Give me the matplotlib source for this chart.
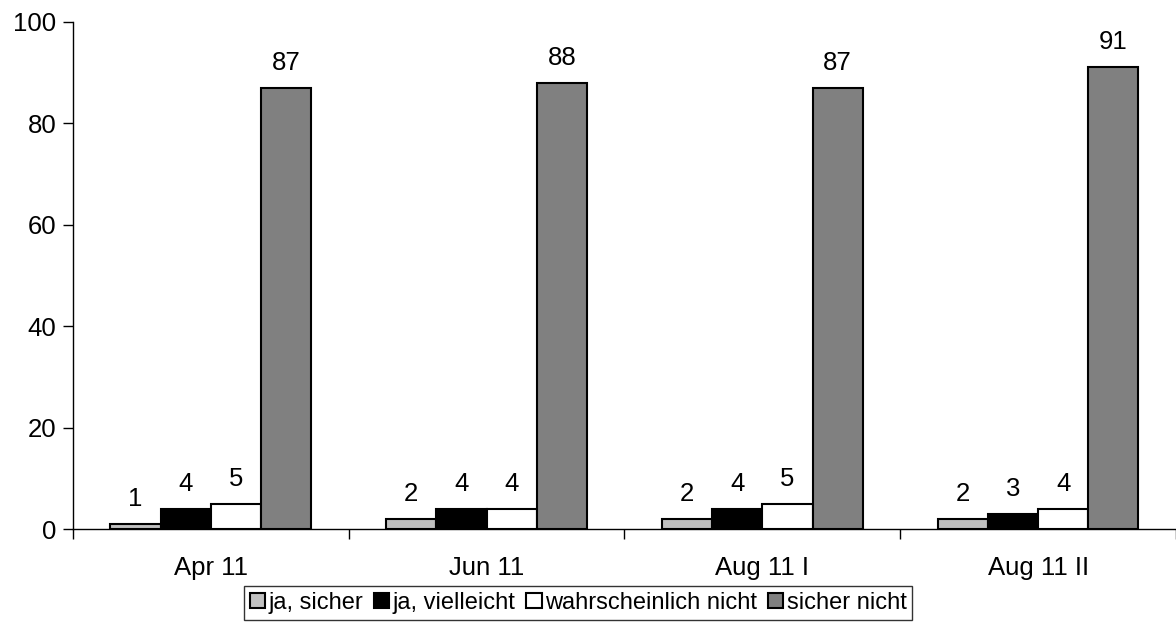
import matplotlib.pyplot as plt
import numpy as np

plt.rcParams['font.family'] = ['Liberation Sans', 'DejaVu Sans']

# data
categories = ['Apr 11', 'Jun 11', 'Aug 11 I', 'Aug 11 II']
series_names = ['ja, sicher', 'ja, vielleicht', 'wahrscheinlich nicht', 'sicher nicht']
ja_sicher = [1, 2, 2, 2]
ja_vielleicht = [4, 4, 4, 3]
wahrscheinlich_nicht = [5, 4, 5, 4]
sicher_nicht = [87, 88, 87, 91]
colors = ['#c0c0c0', '#000000', '#ffffff', '#808080']

values = [ja_sicher, ja_vielleicht, wahrscheinlich_nicht, sicher_nicht]
fs = 18.5

fig = plt.figure(figsize=(11.76, 6.24), dpi=100)
ax = fig.add_axes([0.062, 0.152, 0.938, 0.813])

n = len(series_names)
width = 0.182
x = np.arange(len(categories)) + 0.5

for i, (name, vals, col) in enumerate(zip(series_names, values, colors)):
    pos = x + (i - (n - 1) / 2) * width
    bars = ax.bar(pos, vals, width, color=col, edgecolor='black', linewidth=1.5, label=name)
    for b, v in zip(bars, vals):
        ax.text(b.get_x() + b.get_width() / 2, v + 2.6, str(v),
                ha='center', va='bottom', fontsize=fs)

ax.set_xlim(0, len(categories))
ax.set_ylim(0, 100)
ax.set_yticks(range(0, 101, 20))
ax.tick_params(axis='y', labelsize=fs, length=7, width=1, direction='out', pad=5)

# ticks at group boundaries, labels at group centres
ax.set_xticks(np.arange(len(categories) + 1))
ax.set_xticklabels([])
ax.set_xticks(x, minor=True)
ax.set_xticklabels(categories, minor=True, fontsize=fs)
ax.tick_params(axis='x', which='major', length=7, width=1, direction='out')
ax.tick_params(axis='x', which='minor', length=0, pad=19)

for s in ['top', 'right']:
    ax.spines[s].set_visible(False)
for s in ['left', 'bottom']:
    ax.spines[s].set_linewidth(1)

leg = ax.legend(loc='upper center', bbox_to_anchor=(0.458, -0.112), ncol=4,
                fontsize=17, frameon=True, fancybox=False, edgecolor='black',
                handlelength=0.65, handleheight=0.65, handletextpad=0.15,
                columnspacing=0.45, borderpad=0.25, borderaxespad=0)
leg.get_frame().set_linewidth(1)

fig.savefig('out.png', dpi=100)
